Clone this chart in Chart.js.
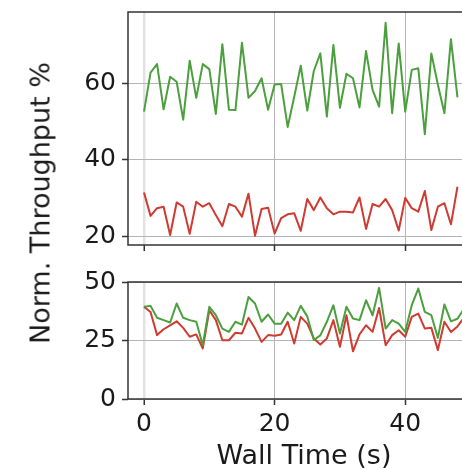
<!DOCTYPE html>
<html>
<head>
<meta charset="utf-8">
<script src="https://cdn.jsdelivr.net/npm/chart.js@4.4.1/dist/chart.umd.min.js"></script>
<style>
  html, body { margin: 0; padding: 0; background: #fff; overflow: hidden; }
  #wrap { position: relative; width: 462px; height: 469px; overflow: hidden; }
  #wrap canvas { position: absolute; left: 0; }
  #topChart { top: 0; }
  #bottomChart { top: 262px; }
  #ylabel {
    position: absolute; left: 40px; top: 203px;
    transform: translate(-50%, -50%) rotate(-90deg);
    font: 27px "DejaVu Sans"; color: #1a1a1a; white-space: nowrap;
  }
</style>
</head>
<body>
<div id="wrap">
  <canvas id="topChart" width="480" height="262"></canvas>
  <canvas id="bottomChart" width="480" height="208"></canvas>
  <div id="ylabel">Norm. Throughput %</div>
</div>
<script>
var wallTime = [0, 1, 2, 3, 4, 5, 6, 7, 8, 9, 10, 11, 12, 13, 14, 15, 16, 17, 18, 19,
                20, 21, 22, 23, 24, 25, 26, 27, 28, 29, 30, 31, 32, 33, 34, 35, 36, 37, 38, 39,
                40, 41, 42, 43, 44, 45, 46, 47, 48, 49];

// upper panel
var topGreen = [52.6, 62.8, 65.0, 53.2, 61.7, 60.4, 50.5, 65.9, 56.2, 65.0,
                63.7, 52.0, 70.2, 53.1, 53.0, 70.6, 56.2, 58.0, 61.3, 53.1,
                59.7, 59.8, 48.6, 56.5, 64.6, 52.9, 63.2, 67.8, 51.3, 70.0,
                53.6, 62.5, 61.3, 53.7, 68.4, 58.3, 53.9, 75.8, 52.2, 70.4,
                52.6, 63.5, 63.9, 46.7, 67.8, 59.6, 52.2, 71.5, 56.3];
var topRed = [31.5, 25.4, 27.4, 27.8, 20.4, 28.9, 27.8, 20.7, 29.1, 27.8,
              28.7, 25.6, 22.7, 28.5, 27.8, 25.2, 31.2, 20.2, 27.2, 27.5,
              20.8, 24.8, 25.8, 26.1, 21.5, 29.8, 26.9, 30.2, 27.4, 25.8,
              26.5, 26.5, 26.3, 30.2, 22.0, 28.5, 27.8, 29.8, 26.9, 21.6,
              30.1, 27.4, 26.5, 31.9, 21.7, 27.8, 28.7, 23.2, 33.0];

// lower panel
var bottomGreen = [39.4, 39.8, 34.7, 33.7, 32.7, 40.8, 34.7, 33.7, 33.0, 23.0,
                   39.4, 35.8, 30.1, 28.7, 33.0, 31.8, 43.6, 40.8, 33.0, 36.1,
                   32.2, 32.2, 36.9, 33.7, 39.8, 35.3, 25.2, 27.2, 33.0, 40.1,
                   28.0, 39.4, 34.4, 33.7, 42.2, 35.8, 47.5, 30.1, 33.7, 32.2,
                   28.7, 40.1, 47.2, 37.2, 35.8, 26.1, 40.4, 33.2, 34.3, 38.6];
var bottomRed = [39.4, 37.2, 27.3, 29.8, 31.5, 33.2, 30.4, 26.6, 27.6, 21.6,
                 37.9, 33.7, 25.1, 25.1, 28.3, 28.0, 34.7, 30.1, 24.4, 27.3,
                 27.0, 27.6, 33.0, 23.7, 35.1, 32.2, 25.9, 23.3, 25.9, 33.7,
                 22.3, 35.8, 20.4, 27.6, 31.5, 28.7, 38.9, 23.0, 27.3, 29.4,
                 26.6, 35.1, 36.5, 30.1, 30.4, 20.9, 33.0, 28.6, 31.0, 34.8];

var xTicks = [0, 20, 40];
var topYTicks = [20, 40, 60];
var bottomYTicks = [0, 25, 50];

var GREEN = '#4b9f3d';
var RED = '#cf3a31';
var SPINE = '#333333';

Chart.defaults.font.family = 'DejaVu Sans';
Chart.defaults.color = '#1a1a1a';

function points(values) {
    return values.map(function (v, i) { return { x: wallTime[i], y: v }; });
}

function series(values, color) {
    return {
        data: points(values),
        borderColor: color,
        borderWidth: 2,
        borderJoinStyle: 'round',
        pointRadius: 0,
        tension: 0,
        fill: false
    };
}

function fixedTicks(list) {
    return function (scale) {
        scale.ticks = list.map(function (v) { return { value: v }; });
    };
}

// draw left / top / bottom axis lines around the plot area
var spines = {
    id: 'spines',
    afterDraw: function (chart) {
        var a = chart.chartArea;
        var c = chart.ctx;
        c.save();
        c.strokeStyle = SPINE;
        c.lineWidth = 1.5;
        c.beginPath();
        c.moveTo(a.right, a.top);
        c.lineTo(a.left, a.top);
        c.lineTo(a.left, a.bottom);
        c.lineTo(a.right, a.bottom);
        c.stroke();
        c.restore();
    }
};

function makeChart(id, opts) {
    var ctx = document.getElementById(id).getContext('2d');
    return new Chart(ctx, {
        type: 'line',
        data: { datasets: opts.datasets },
        options: {
            responsive: false,
            animation: false,
            devicePixelRatio: 1,
            layout: { padding: { top: opts.padTop, left: 0, right: 0, bottom: 0 } },
            plugins: { legend: { display: false }, tooltip: { enabled: false } },
            scales: {
                x: {
                    type: 'linear',
                    min: -2.45,
                    max: 51.45,
                    afterBuildTicks: fixedTicks(xTicks),
                    afterFit: function (scale) {
                        scale.height = opts.xHeight;
                        scale.paddingLeft = 0;
                        scale.paddingRight = 0;
                    },
                    border: { display: false },
                    grid: {
                        color: function (c) { return c.tick && c.tick.value === 0 ? '#e2e2e2' : '#b5b5b5'; },
                        lineWidth: function (c) { return c.tick && c.tick.value === 0 ? 2.5 : 1; },
                        tickLength: 6,
                        tickColor: SPINE,
                        tickWidth: 1.5
                    },
                    ticks: {
                        display: opts.xLabels,
                        font: { size: 25 },
                        padding: 4,
                        maxRotation: 0
                    },
                    title: {
                        display: opts.xLabels,
                        text: 'Wall Time (s)',
                        font: { size: 27, lineHeight: 1 },
                        padding: 0
                    }
                },
                y: {
                    min: opts.yMin,
                    max: opts.yMax,
                    afterBuildTicks: fixedTicks(opts.yTicks),
                    afterFit: function (scale) {
                        scale.width = 128;
                        scale.paddingTop = 0;
                        scale.paddingBottom = 0;
                    },
                    border: { display: false },
                    grid: {
                        color: '#b5b5b5',
                        lineWidth: 1,
                        tickLength: 6,
                        tickColor: SPINE,
                        tickWidth: 1.5
                    },
                    ticks: {
                        font: { size: 25 },
                        padding: 6
                    }
                }
            }
        },
        plugins: [spines]
    });
}

var topChart = makeChart('topChart', {
    datasets: [series(topGreen, GREEN), series(topRed, RED)],
    padTop: 12,
    xHeight: 17,
    xLabels: false,
    yMin: 17.8,
    yMax: 78.6,
    yTicks: topYTicks
});

var bottomChart = makeChart('bottomChart', {
    datasets: [series(bottomGreen, GREEN), series(bottomRed, RED)],
    padTop: 20,
    xHeight: 71,
    xLabels: true,
    yMin: 0,
    yMax: 50,
    yTicks: bottomYTicks
});
</script>
</body>
</html>
